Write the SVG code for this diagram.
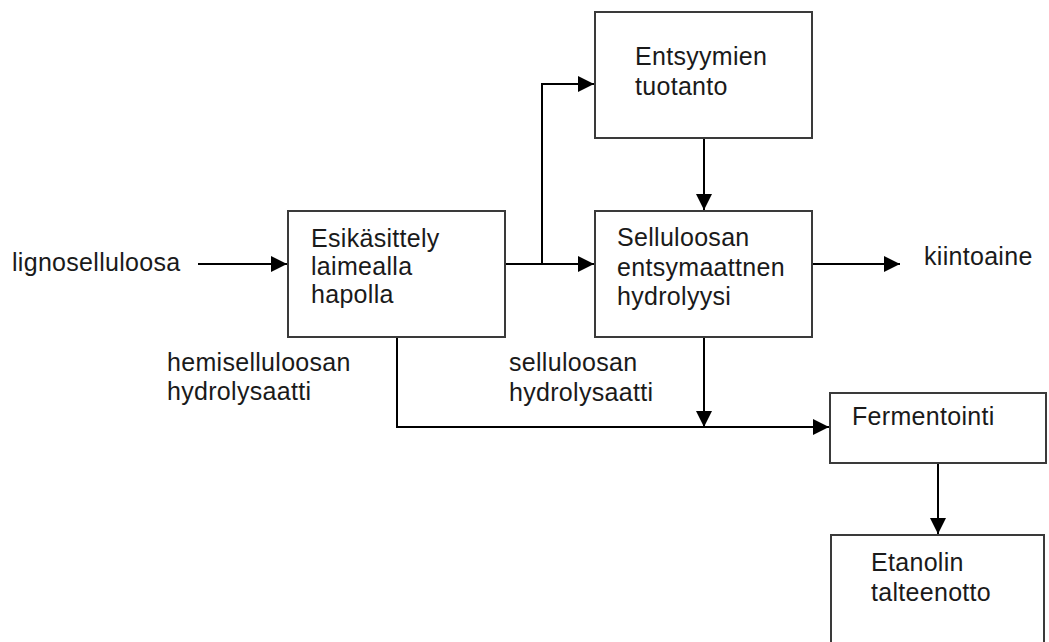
<svg xmlns="http://www.w3.org/2000/svg" width="1049" height="642" viewBox="0 0 1049 642">
<style>
.box{fill:#fff;stroke:#3a3a3a;stroke-width:2}
.t{font-family:"Liberation Sans",Arial,sans-serif;font-size:25px;letter-spacing:0.3px;fill:#1a1a1a}
.c{fill:none;stroke:#000;stroke-width:2}
</style>
<defs>
<marker id="ah" markerWidth="17" markerHeight="16" refX="16" refY="8" orient="auto" markerUnits="userSpaceOnUse">
<path d="M0,0 L16,8 L0,16 Z" fill="#000"/>
</marker>
</defs>
<rect width="1049" height="642" fill="#fff"/>
<g id="connectors">
<path class="c" d="M198,264 H287" marker-end="url(#ah)"/>
<path class="c" d="M505,264 H594" marker-end="url(#ah)"/>
<path class="c" d="M542,264 V84 H594" marker-end="url(#ah)"/>
<path class="c" d="M704,138 V210" marker-end="url(#ah)"/>
<path class="c" d="M812,264 H900" marker-end="url(#ah)"/>
<path class="c" d="M397,337 V427 H829" marker-end="url(#ah)"/>
<path class="c" d="M704,337 V427" marker-end="url(#ah)"/>
<path class="c" d="M938,463 V534" marker-end="url(#ah)"/>
</g>
<g id="input">
<text class="t" x="12" y="271">lignoselluloosa</text>
</g>
<g id="esikasittely">
<rect class="box" x="288" y="211" width="217" height="126"/>
<text class="t" x="311" y="247">Esikäsittely</text>
<text class="t" x="311" y="275">laimealla</text>
<text class="t" x="311" y="303">hapolla</text>
</g>
<g id="entsyymien">
<rect class="box" x="595" y="12" width="217" height="126"/>
<text class="t" x="635" y="65">Entsyymien</text>
<text class="t" x="635" y="95">tuotanto</text>
</g>
<g id="selluloosan">
<rect class="box" x="595" y="211" width="217" height="126"/>
<text class="t" x="617" y="246">Selluloosan</text>
<text class="t" x="617" y="276">entsymaattnen</text>
<text class="t" x="617" y="305">hydrolyysi</text>
</g>
<g id="kiintoaine">
<text class="t" x="924" y="265">kiintoaine</text>
</g>
<g id="hemi-label">
<text class="t" x="167" y="371">hemiselluloosan</text>
<text class="t" x="167" y="400">hydrolysaatti</text>
</g>
<g id="sellu-label">
<text class="t" x="509" y="371">selluloosan</text>
<text class="t" x="509" y="401">hydrolysaatti</text>
</g>
<g id="fermentointi">
<rect class="box" x="830" y="393" width="216" height="70"/>
<text class="t" x="852" y="425">Fermentointi</text>
</g>
<g id="etanolin">
<rect class="box" x="831" y="535" width="213" height="120"/>
<text class="t" x="871" y="571">Etanolin</text>
<text class="t" x="871" y="601">talteenotto</text>
</g>
</svg>
